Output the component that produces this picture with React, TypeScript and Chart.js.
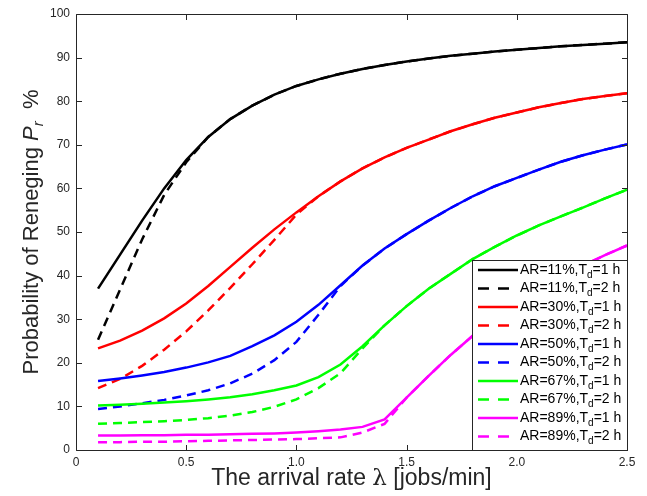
import React, { useEffect, useRef } from "react";
import { Chart, registerables } from "chart.js";

Chart.register(...registerables);

// arrival rate λ [jobs/min]
const lambdaValues = [0.1, 0.2, 0.3, 0.4, 0.5, 0.6, 0.7, 0.8, 0.9, 1.0, 1.1, 1.2, 1.3, 1.4, 1.5, 1.6, 1.7, 1.8, 1.9, 2.0, 2.1, 2.2, 2.3, 2.4, 2.5];

// Probability of reneging Pr %
const ar11Td1 = [37.0, 44.8, 52.6, 60.0, 66.5, 71.8, 75.9, 79.0, 81.5, 83.5, 85.0, 86.3, 87.4, 88.3, 89.1, 89.8, 90.4, 90.9, 91.4, 91.8, 92.2, 92.6, 92.9, 93.2, 93.5];
const ar11Td2 = [25.3, 36.8, 48.3, 58.5, 66.0, 71.8, 75.9, 79.0, 81.5, 83.5, 85.0, 86.3, 87.4, 88.3, 89.1, 89.8, 90.4, 90.9, 91.4, 91.8, 92.2, 92.6, 92.9, 93.2, 93.5];
const ar30Td1 = [23.3, 25.1, 27.4, 30.2, 33.6, 37.6, 42.0, 46.4, 50.6, 54.5, 58.2, 61.6, 64.6, 67.1, 69.3, 71.2, 73.1, 74.7, 76.2, 77.4, 78.6, 79.6, 80.5, 81.2, 81.8];
const ar30Td2 = [14.2, 16.3, 19.3, 23.0, 27.2, 32.0, 37.2, 42.6, 48.2, 54.0, 58.2, 61.6, 64.6, 67.1, 69.3, 71.2, 73.1, 74.7, 76.2, 77.4, 78.6, 79.6, 80.5, 81.2, 81.8];
const ar50Td1 = [15.8, 16.4, 17.1, 17.9, 18.9, 20.1, 21.6, 23.8, 26.3, 29.4, 33.3, 37.8, 42.3, 46.2, 49.5, 52.6, 55.5, 58.2, 60.5, 62.4, 64.3, 66.1, 67.6, 68.9, 70.1];
const ar50Td2 = [9.4, 10.0, 10.7, 11.5, 12.5, 13.7, 15.3, 17.5, 20.6, 24.8, 31.0, 37.6, 42.3, 46.2, 49.5, 52.6, 55.5, 58.2, 60.5, 62.4, 64.3, 66.1, 67.6, 68.9, 70.1];
const ar67Td1 = [10.2, 10.4, 10.6, 10.9, 11.2, 11.6, 12.1, 12.8, 13.7, 14.8, 16.7, 19.6, 23.8, 28.6, 33.0, 37.0, 40.4, 43.8, 46.6, 49.2, 51.5, 53.6, 55.6, 57.7, 59.7];
const ar67Td2 = [6.0, 6.2, 6.4, 6.6, 6.9, 7.3, 7.9, 8.7, 9.9, 11.6, 14.2, 17.6, 23.3, 28.6, 33.0, 37.0, 40.4, 43.8, 46.6, 49.2, 51.5, 53.6, 55.6, 57.7, 59.7];
const ar89Td1 = [3.3, 3.3, 3.4, 3.4, 3.5, 3.5, 3.6, 3.7, 3.8, 4.0, 4.3, 4.7, 5.3, 7.0, 12.0, 17.0, 21.8, 26.2, 30.2, 33.8, 37.0, 39.8, 42.3, 44.7, 46.9];
const ar89Td2 = [1.8, 1.8, 1.9, 1.9, 2.0, 2.1, 2.2, 2.3, 2.4, 2.5, 2.7, 2.9, 4.0, 6.0, 12.0, 17.0, 21.8, 26.2, 30.2, 33.8, 37.0, 39.8, 42.3, 44.7, 46.9];

const arLabels = ["11%", "30%", "50%", "67%", "89%"];
const tdLabels = ["1 h", "2 h"];
const seriesValues = [ar11Td1, ar11Td2, ar30Td1, ar30Td2, ar50Td1, ar50Td2, ar67Td1, ar67Td2, ar89Td1, ar89Td2];
const arColors = ["#000000", "#ff0000", "#0000ff", "#00ff00", "#ff00ff"];

const yTicks = [0, 10, 20, 30, 40, 50, 60, 70, 80, 90, 100];
const xTicks = [0, 0.5, 1, 1.5, 2, 2.5];

const SANS = "'Liberation Sans', Arial, Helvetica, sans-serif";
const AXIS_COLOR = "#262626";
const PLOT_DASH = [9, 6];
const LEGEND_DASH = [11, 9];

type Run = { text: string; font: string; dy?: number };

function drawRuns(ctx: CanvasRenderingContext2D, runs: Run[], x: number, y: number, align: "left" | "center") {
  let total = 0;
  const widths = runs.map((r) => {
    ctx.font = r.font;
    const w = ctx.measureText(r.text).width;
    total += w;
    return w;
  });
  let cx = align === "center" ? x - total / 2 : x;
  runs.forEach((r, i) => {
    ctx.font = r.font;
    ctx.fillText(r.text, cx, y + (r.dy || 0));
    cx += widths[i];
  });
}

const decorPlugin = {
  id: "matlabDecor",
  afterDraw(chart: any) {
    const ctx: CanvasRenderingContext2D = chart.ctx;
    const area = chart.chartArea;
    const xs = chart.scales.x;
    const ys = chart.scales.y;
    ctx.save();

    // Axes box and inward ticks
    ctx.strokeStyle = AXIS_COLOR;
    ctx.lineWidth = 1;
    const L = Math.round(area.left) + 0.5;
    const R = Math.round(area.right) + 0.5;
    const T = Math.round(area.top) + 0.5;
    const B = Math.round(area.bottom) + 0.5;
    ctx.beginPath();
    ctx.rect(L, T, R - L, B - T);
    ctx.stroke();
    const tl = 5.5;
    ctx.beginPath();
    yTicks.forEach((v) => {
      const py = Math.round(ys.getPixelForValue(v)) + 0.5;
      ctx.moveTo(L, py);
      ctx.lineTo(L + tl, py);
      ctx.moveTo(R, py);
      ctx.lineTo(R - tl, py);
    });
    xTicks.forEach((v) => {
      const px = Math.round(xs.getPixelForValue(v)) + 0.5;
      ctx.moveTo(px, B);
      ctx.lineTo(px, B - tl);
      ctx.moveTo(px, T);
      ctx.lineTo(px, T + tl);
    });
    ctx.stroke();

    // Legend box (lower right, inside the axes)
    const lx0 = 472;
    const ly0 = 260;
    const lx1 = R;
    const ly1 = B;
    ctx.fillStyle = "#ffffff";
    ctx.fillRect(lx0, ly0, lx1 - lx0, ly1 - ly0);
    ctx.strokeStyle = AXIS_COLOR;
    ctx.lineWidth = 1;
    ctx.strokeRect(lx0 + 0.5, ly0 + 0.5, lx1 - lx0 - 0.5, ly1 - ly0 - 0.5);
    chart.data.datasets.forEach((ds: any, i: number) => {
      const cy = 270 + i * 18.5;
      ctx.strokeStyle = ds.borderColor;
      ctx.lineWidth = 2.5;
      ctx.setLineDash(ds.borderDash && ds.borderDash.length ? LEGEND_DASH : []);
      ctx.beginPath();
      ctx.moveTo(478, cy);
      ctx.lineTo(518, cy);
      ctx.stroke();
      ctx.setLineDash([]);
      ctx.fillStyle = "#000000";
      ctx.textBaseline = "middle";
      ctx.textAlign = "left";
      const ar = arLabels[Math.floor(i / 2)];
      const td = tdLabels[i % 2];
      drawRuns(
        ctx,
        [
          { text: "AR=" + ar + ",T", font: `14px ${SANS}` },
          { text: "d", font: `10px ${SANS}`, dy: 5 },
          { text: "=" + td, font: `14px ${SANS}` },
        ],
        520,
        cy,
        "left"
      );
    });

    // Axis titles
    ctx.fillStyle = AXIS_COLOR;
    ctx.textBaseline = "middle";
    ctx.textAlign = "left";
    drawRuns(
      ctx,
      [
        { text: "The arrival rate ", font: `23px ${SANS}` },
        { text: "λ", font: `23px 'DejaVu Serif', 'Liberation Serif', serif` },
        { text: " [jobs/min]", font: `23px ${SANS}` },
      ],
      (area.left + area.right) / 2,
      479,
      "center"
    );
    ctx.save();
    ctx.translate(32, (area.top + area.bottom) / 2);
    ctx.rotate(-Math.PI / 2);
    drawRuns(
      ctx,
      [
        { text: "Probability of Reneging ", font: `22px ${SANS}` },
        { text: "P", font: `italic 22px ${SANS}` },
        { text: "r", font: `italic 15px ${SANS}`, dy: 7 },
        { text: "  %", font: `22px ${SANS}` },
      ],
      0,
      0,
      "center"
    );
    ctx.restore();
    ctx.restore();
  },
};

export default function App() {
  const canvasRef = useRef<HTMLCanvasElement | null>(null);

  useEffect(() => {
    document.body.style.margin = "0";
    const canvas = canvasRef.current;
    if (!canvas) return;
    const datasets = seriesValues.map((vals, i) => ({
      label: "AR=" + arLabels[Math.floor(i / 2)] + ",Td=" + tdLabels[i % 2],
      data: lambdaValues.map((x, k) => ({ x, y: vals[k] })),
      borderColor: arColors[Math.floor(i / 2)],
      backgroundColor: arColors[Math.floor(i / 2)],
      borderWidth: 2.5,
      borderDash: i % 2 === 1 ? PLOT_DASH : [],
      pointRadius: 0,
      tension: 0,
      fill: false,
      order: seriesValues.length - i,
    }));
    const chart = new Chart(canvas, {
      type: "line",
      data: { datasets },
      options: {
        responsive: false,
        maintainAspectRatio: false,
        animation: false,
        events: [],
        layout: { padding: { top: 14, right: 20, left: 0, bottom: 0 } },
        plugins: {
          legend: { display: false },
          tooltip: { enabled: false },
          title: { display: false },
        },
        scales: {
          x: {
            type: "linear",
            min: 0,
            max: 2.5,
            border: { display: false },
            grid: { display: false, drawTicks: false },
            ticks: {
              stepSize: 0.5,
              padding: 5,
              color: AXIS_COLOR,
              font: { family: SANS, size: 12 },
              maxRotation: 0,
              autoSkip: false,
            },
            afterFit: (scale: any) => {
              scale.height = 46;
            },
          },
          y: {
            type: "linear",
            min: 0,
            max: 100,
            border: { display: false },
            grid: { display: false, drawTicks: false },
            ticks: {
              stepSize: 10,
              padding: 6,
              color: AXIS_COLOR,
              font: { family: SANS, size: 12 },
              autoSkip: false,
            },
            afterFit: (scale: any) => {
              scale.width = 76;
            },
          },
        },
      },
      plugins: [decorPlugin],
    });
    return () => chart.destroy();
  }, []);

  return (
    <div style={{ width: 647, height: 496, position: "relative", background: "#ffffff" }}>
      <canvas ref={canvasRef} width={647} height={496} style={{ display: "block" }} />
    </div>
  );
}
